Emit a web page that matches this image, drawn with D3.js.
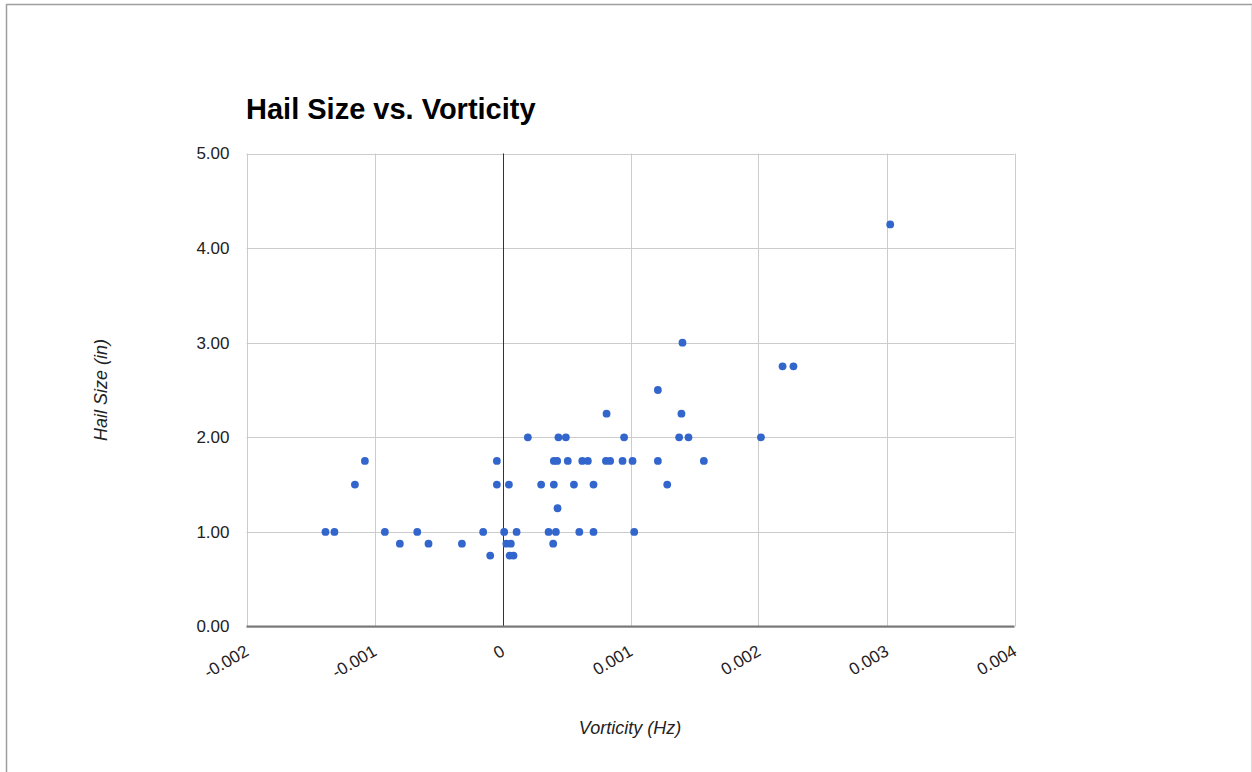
<!DOCTYPE html>
<html>
<head>
<meta charset="utf-8">
<script src="https://cdn.jsdelivr.net/npm/d3@7"></script>
<style>
  html, body { margin: 0; padding: 0; background: #fff; }
  svg { display: block; font-family: "Liberation Sans", Arial, sans-serif; }
</style>
</head>
<body>
<svg id="chart" width="1252" height="772"></svg>
<script>
// Data
const vorticity = [
  -0.001383, -0.001313, -0.001153, -0.001075, -0.000919, -0.000802, -0.000666, -0.000578,
  -0.000317, -0.000151, -0.000096, -0.000044, -0.000044, 0.000013, 0.000030, 0.000065,
  0.000050, 0.000056, 0.000086, 0.000110, 0.000198, 0.000302, 0.000360, 0.000417,
  0.000396, 0.000401, 0.000401, 0.000427, 0.000430, 0.000437, 0.000495, 0.000510,
  0.000558, 0.000600, 0.000623, 0.000667, 0.000711, 0.000711, 0.000813, 0.000808,
  0.000841, 0.000938, 0.000950, 0.001016, 0.001029, 0.001406, 0.001214, 0.001398,
  0.002188, 0.002273, 0.001380, 0.001453, 0.002019, 0.001214, 0.001573, 0.001287,
  0.003029
];
const hailSize = [
  1.00, 1.00, 1.50, 1.75, 1.00, 0.875, 1.00, 0.875,
  0.875, 1.00, 0.75, 1.75, 1.50, 1.00, 0.875, 0.875,
  1.50, 0.75, 0.75, 1.00, 2.00, 1.50, 1.00, 1.00,
  0.875, 1.50, 1.75, 1.75, 1.25, 2.00, 2.00, 1.75,
  1.50, 1.00, 1.75, 1.75, 1.50, 1.00, 2.25, 1.75,
  1.75, 1.75, 2.00, 1.75, 1.00, 3.00, 2.50, 2.25,
  2.75, 2.75, 2.00, 2.00, 2.00, 1.75, 1.75, 1.50,
  4.25
];
const xTickValues = [-0.002, -0.001, 0, 0.001, 0.002, 0.003, 0.004];
const xTickLabels = ["-0.002", "-0.001", "0", "0.001", "0.002", "0.003", "0.004"];
const yTickValues = [0, 1, 2, 3, 4, 5];
const yTickLabels = ["0.00", "1.00", "2.00", "3.00", "4.00", "5.00"];
const chartTitle = "Hail Size vs. Vorticity";
const xTitle = "Vorticity (Hz)";
const yTitle = "Hail Size (in)";

const points = vorticity.map((v, i) => ({ x: v, y: hailSize[i] }));

const svg = d3.select("#chart");

// page frame
svg.append("line").attr("x1", 6.5).attr("x2", 1252).attr("y1", 4.5).attr("y2", 4.5)
  .attr("stroke", "#9e9e9e").attr("stroke-width", 1.5);
svg.append("line").attr("x1", 6.5).attr("x2", 6.5).attr("y1", 4).attr("y2", 772)
  .attr("stroke", "#9e9e9e").attr("stroke-width", 1.5);
svg.append("line").attr("x1", 1251.5).attr("x2", 1251.5).attr("y1", 5).attr("y2", 772)
  .attr("stroke", "#dddddd").attr("stroke-width", 1);

const pL = 246.5, pR = 1014.5, pT = 153.5, pB = 626.5;
const x = d3.scaleLinear().domain([-0.002, 0.004]).range([pL, pR]);
const y = d3.scaleLinear().domain([0, 5]).range([pB, pT]);

// gridlines
const grid = svg.append("g");
grid.selectAll(".hg").data(yTickValues).join("line")
  .attr("x1", pL).attr("x2", pR)
  .attr("y1", d => Math.round(y(d)) + 0.5).attr("y2", d => Math.round(y(d)) + 0.5)
  .attr("stroke", "#cccccc").attr("stroke-width", 1);
grid.selectAll(".vg").data(xTickValues).join("line")
  .attr("x1", d => Math.round(x(d)) + 0.5).attr("x2", d => Math.round(x(d)) + 0.5)
  .attr("y1", pT).attr("y2", pB)
  .attr("stroke", "#cccccc").attr("stroke-width", 1);

// zero line
svg.append("line")
  .attr("x1", Math.round(x(0)) + 0.5).attr("x2", Math.round(x(0)) + 0.5)
  .attr("y1", pT).attr("y2", pB)
  .attr("stroke", "#333333").attr("stroke-width", 1);

// baseline
svg.append("line").attr("x1", pL).attr("x2", pR)
  .attr("y1", pB).attr("y2", pB)
  .attr("stroke", "#777777").attr("stroke-width", 2);

// y axis labels
const yAxis = d3.axisLeft(y).tickValues(yTickValues)
  .tickFormat((d, i) => yTickLabels[i]).tickSize(0).tickPadding(17);
const gy = svg.append("g").attr("transform", `translate(${pL},0)`).call(yAxis);
gy.select(".domain").remove();
gy.selectAll("text").attr("font-size", 17).attr("fill", "#222")
  .attr("font-family", "Liberation Sans, Arial, sans-serif");

// x axis labels (rotated)
const xAxis = d3.axisBottom(x).tickValues(xTickValues)
  .tickFormat((d, i) => xTickLabels[i]).tickSize(0).tickPadding(0);
const gx = svg.append("g").attr("transform", `translate(0,${pB})`).call(xAxis);
gx.select(".domain").remove();
gx.selectAll("text")
  .attr("font-size", 17).attr("fill", "#222")
  .attr("font-family", "Liberation Sans, Arial, sans-serif")
  .attr("text-anchor", "end")
  .attr("y", 0).attr("dy", 0)
  .attr("transform", "translate(3,28) rotate(-30)");

// points
svg.append("g").selectAll("circle").data(points).join("circle")
  .attr("cx", d => x(d.x)).attr("cy", d => y(d.y))
  .attr("r", 3.9).attr("fill", "#3366cc");

// titles
svg.append("text").attr("x", 246).attr("y", 119)
  .attr("font-size", 29).attr("font-weight", "bold").attr("fill", "#000")
  .text(chartTitle);
svg.append("text").attr("x", 630).attr("y", 734).attr("text-anchor", "middle")
  .attr("font-size", 18).attr("font-style", "italic").attr("fill", "#222")
  .text(xTitle);
svg.append("text").attr("transform", "translate(107,390) rotate(-90)")
  .attr("text-anchor", "middle")
  .attr("font-size", 18).attr("font-style", "italic").attr("fill", "#222")
  .text(yTitle);
</script>
</body>
</html>
